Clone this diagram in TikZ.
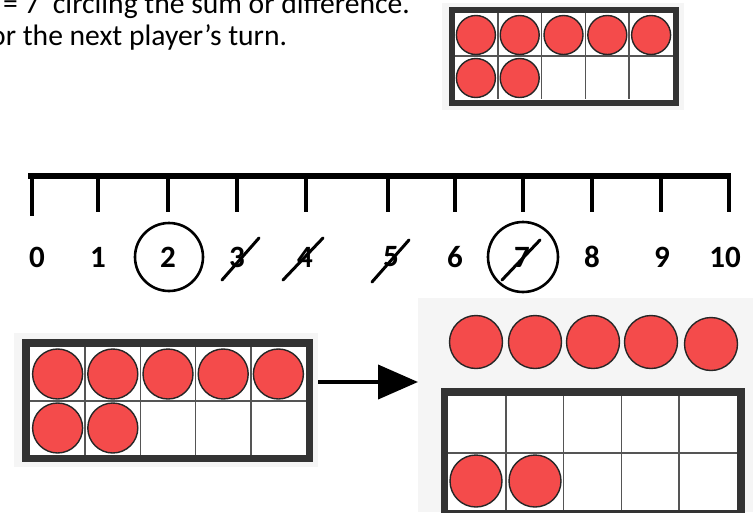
\documentclass[tikz,border=0pt]{standalone}
\usepackage{fontspec}
\setmainfont{Carlito}
\usepackage{xcolor}
\usepackage{tikz}
\usetikzlibrary{arrows.meta, positioning}
\definecolor{counterred}{HTML}{F44B4B}
\definecolor{framegray}{HTML}{333333}
\definecolor{cellgray}{HTML}{555555}
\definecolor{bggray}{HTML}{F5F5F5}

\begin{document}
\begin{tikzpicture}[x=1pt, y=-1pt,
  txt/.style={font=\fontsize{29.6}{35}\selectfont, inner sep=0pt, anchor=base west},
  num/.style={font=\fontsize{31}{31}\selectfont\bfseries, inner sep=0pt},
  dot/.style={fill=counterred, draw=black!85, line width=1.4pt},
  frm/.style={draw=framegray, line width=7.5pt},
  cell/.style={draw=cellgray, line width=1.5pt},
  ring/.style={draw=black, line width=2.6pt},
  strike/.style={draw=black, line width=3pt, line cap=round},
  tk/.style={line width=4pt}]
\useasboundingbox (0,0) rectangle (753,512);
\clip (0,0) rectangle (753,512);
%%── Instruction text (cut off at the page edge) ─────────
\node[txt] (line1) at (3,13) {= 7\hspace{0.45em}circling the sum or difference.};
\node[txt] (line2) at (-10,45) {or the next player’s turn.};
%%── Small ten frame, top right ──────────────────────────
\fill[bggray] (442,3) rectangle (684,110);
\fill[white] (452,10) rectangle (676,102);
\foreach \c in {1,...,4}
  \draw[cell] (454+43.8*\c,13) -- (454+43.8*\c,99);
\draw[cell] (454,56) -- (673,56);
\foreach \c in {0,...,4}
  \draw[dot] (475.9+43.8*\c,35) circle[radius=19.5pt];
\foreach \c in {0,1}
  \draw[dot] (475.9+43.8*\c,78) circle[radius=19.5pt];
\draw[frm, line width=6pt] (451.5,10) rectangle (676,102.5);
%%── Number line ─────────────────────────────────────────
\draw[line width=6pt] (28,176) -- (731,176);
\draw[tk] (32,176) -- (32,216);
\foreach \x in {98,168,237,306,388,455,523,592,661,729}
  \draw[tk] (\x,176) -- (\x,212);
\foreach \n/\x in {0/37,1/98,2/168,3/237,4/305,5/391,6/455,7/522,8/592,9/662,10/725}
  \node[num] (n\n) at (\x,257) {\n};
%% circled answers
\draw[ring] (169,257) circle[radius=34pt];
\draw[ring] (523,257) circle[radius=35pt];
%% crossed-out numbers
\draw[strike] ([shift={(-15pt,-23pt)}]n3.center) -- ([shift={(22pt,19pt)}]n3.center);
\draw[strike] ([shift={(-22pt,-23pt)}]n4.center) -- ([shift={(18pt,19pt)}]n4.center);
\draw[strike] ([shift={(-19pt,-25pt)}]n5.center) -- ([shift={(18pt,17pt)}]n5.center);
\draw[strike] ([shift={(-20pt,-23pt)}]n7.center) -- ([shift={(18pt,17pt)}]n7.center);
%%── Ten frame with 7, bottom left ───────────────────────
\node[fill=bggray, inner sep=0pt, minimum width=304pt, minimum height=134pt,
      anchor=north west] (leftbg) at (14,333) {};
\fill[white] (26,343) rectangle (309.5,458.5);
\foreach \c in {1,...,4}
  \draw[cell] (30+55.2*\c,347) -- (30+55.2*\c,455);
\draw[cell] (30,401) -- (306,401);
\foreach \c in {0,...,4}
  \draw[dot] (57.6+55.2*\c,374) circle[radius=25pt];
\foreach \c in {0,1}
  \draw[dot] (57.6+55.2*\c,428) circle[radius=25pt];
\draw[frm] (26,343) rectangle (309.5,458.5);
%%── Take away 5: counters moved out, bottom right ───────
\node[fill=bggray, inner sep=0pt, minimum width=335pt, minimum height=214pt,
      anchor=north west] (rightbg) at (418,298) {};
\foreach \x in {476,535,593,651}
  \draw[dot] (\x,342) circle[radius=26.5pt];
\draw[dot] (711,344) circle[radius=26.5pt];
\fill[white] (444.5,392) rectangle (741,514);
\foreach \c in {1,...,4}
  \draw[cell] (448+57.8*\c,396) -- (448+57.8*\c,510);
\draw[cell] (448,453) -- (737,453);
\foreach \x in {476,535}
  \draw[dot] (\x,481) circle[radius=26pt];
\draw[frm] (444.5,392) rectangle (741,514);
%%── Arrow between the frames ────────────────────────────
\coordinate (arrowy) at (0,382);
\draw[line width=4pt, -{Triangle[length=40pt, width=34pt]}]
  (leftbg.east |- arrowy) -- (rightbg.west |- arrowy);
\end{tikzpicture}
\end{document}
